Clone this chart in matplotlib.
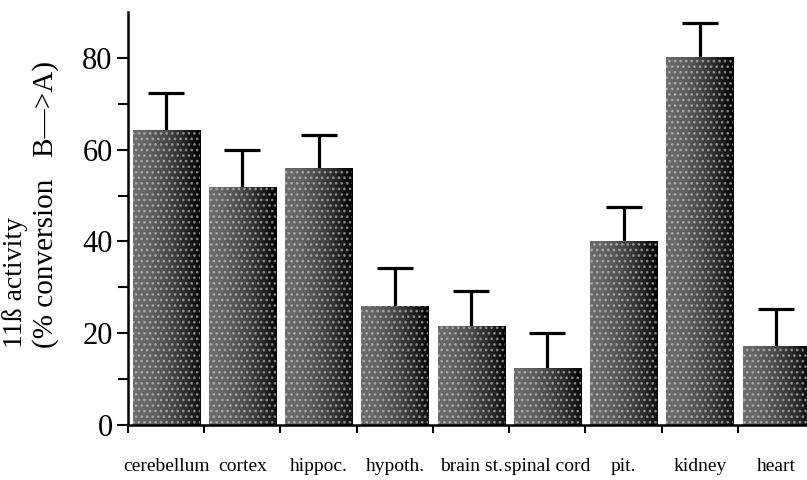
import numpy as np
import matplotlib
matplotlib.use("Agg")
from matplotlib import pyplot as plt

# valores
regiones = ["cerebellum", "cortex", "hippoc.", "hypoth.", "brain st.",
            "spinal cord", "pit.", "kidney", "heart"]
actividad = [64.3, 51.9, 55.9, 25.9, 21.6, 12.4, 40.1, 80.1, 17.2]
error_sup = [8.1, 8.0, 7.4, 8.3, 7.6, 7.6, 7.4, 7.4, 8.1]

plt.rcParams['font.family'] = ['Liberation Serif', 'DejaVu Serif']
plt.rcParams['hatch.linewidth'] = 1.2

fig = plt.figure(figsize=(8.07, 4.8), dpi=100)
ax = fig.add_axes([128/807., 55/480., 1 - 128/807., 413/480.])

x = np.arange(len(regiones)) + 0.5
ancho = 0.88
act = np.array(actividad)
tope = act + np.array(error_sup)

# barras de error (solo la parte de arriba)
ax.vlines(x, act, tope, color='black', linewidth=2.3, zorder=1)
ax.hlines(tope, x - 0.235, x + 0.235, color='black', linewidth=2.3, zorder=1)

barras = ax.bar(x, actividad, width=ancho, color='#333333', edgecolor='none', zorder=2)

# degradado gris -> negro dentro de cada barra
xx, yy = np.meshgrid(np.linspace(0, 1, 60), np.linspace(0, 1, 200))
grad = 0.42 - 0.36 * xx**1.8 - 0.08 * xx * yy
for b in barras:
    x0 = b.get_x()
    h = b.get_height()
    im = ax.imshow(grad, cmap='gray', vmin=0, vmax=1, origin='lower',
                   extent=(x0, x0 + ancho, 0, h), aspect='auto', zorder=3,
                   interpolation='bilinear')
    im.set_clip_path(b)

# punteado claro encima
ax.bar(x, actividad, width=ancho, color='none', edgecolor=(0.85, 0.85, 0.85, 0.5),
       linewidth=0, hatch='...', zorder=4)

ax.set_xlim(0, 8.905)
ax.set_ylim(0, 90)

ax.spines['top'].set_visible(False)
ax.spines['right'].set_visible(False)
ax.spines['left'].set_linewidth(1.8)
ax.spines['bottom'].set_linewidth(1.8)
ax.spines['left'].set_zorder(5)
ax.spines['bottom'].set_zorder(5)

ax.set_yticks([0, 20, 40, 60, 80])
ax.set_yticks([10, 30, 50, 70], minor=True)
ax.tick_params(axis='y', which='major', length=8, width=1.5, labelsize=22, pad=3)
ax.tick_params(axis='y', which='minor', length=7, width=1.5)

ax.set_xticks(np.arange(0, 9))
ax.set_xticklabels([])
ax.set_xticks(x, minor=True)
ax.set_xticklabels(regiones, minor=True)
ax.tick_params(axis='x', which='major', length=6, width=1.5)
ax.tick_params(axis='x', which='minor', length=0, labelsize=14, pad=24)

fig.text(15/807., 132/480., "11\u00df activity", rotation=90, rotation_mode='anchor',
         ha='left', va='center', fontsize=20)
fig.text(46/807., 132/480., "(% conversion   B\u2014>A)", rotation=90,
         rotation_mode='anchor', ha='left', va='center', fontsize=21)

fig.savefig("out.png", dpi=100)
